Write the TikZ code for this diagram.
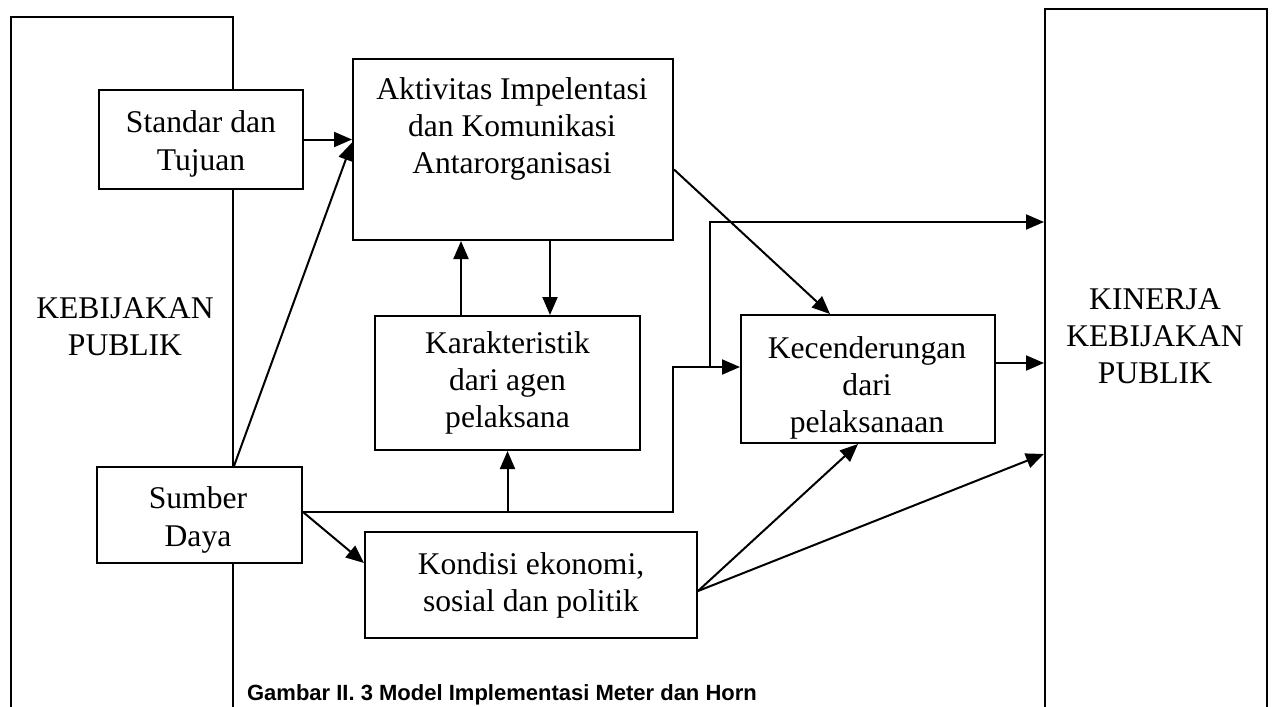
\documentclass[tikz,border=0pt]{standalone}
\usepackage{fontspec}
\setmainfont{Liberation Serif}
\newfontfamily\capfont{Liberation Sans}
\usetikzlibrary{arrows.meta}

\begin{document}
\begin{tikzpicture}[x=0.5pt,y=-0.5pt,
    box/.style={draw,line width=1pt,fill=white,align=center,inner sep=0pt,
      font=\fontsize{15.8}{18.6}\selectfont},
    bigbox/.style={draw,line width=1pt,minimum width=111pt,inner sep=0pt},
    txt/.style={align=center,inner sep=0pt,font=\fontsize{15.8}{18.6}\selectfont},
    arr/.style={line width=1pt,-{Triangle[length=9pt,width=7.5pt]}}]

  \useasboundingbox (0,0) rectangle (1277,706);

  \node[bigbox,minimum height=381.5pt] (keb) at (122,398.5) {};
  \node[bigbox,minimum height=385.5pt] (kin) at (1156,394.5) {};
  \node[txt] (kebtxt) at (125,327) {KEBIJAKAN\\PUBLIK};
  \node[txt] (kintxt) at (1155,336) {KINERJA\\KEBIJAKAN\\PUBLIK};

  \node[box,minimum width=102pt,minimum height=49.5pt] (std) at (201,139.5) {};
  \node[txt] (stdtxt) at (201,144) {Standar dan\\Tujuan};
  \node[box,minimum width=160pt,minimum height=90.5pt] (akt) at (513,149.5) {};
  \node[txt] (akttxt) at (512,129) {Aktivitas Impelentasi\\dan Komunikasi\\Antarorganisasi};
  \node[box,minimum width=132.5pt,minimum height=67pt] (kar) at (507.5,383) {Karakteristik\\dari agen\\pelaksana};
  \node[box,minimum width=102.5pt,minimum height=48pt] (sum) at (199.5,515) {};
  \node[txt] (sumtxt) at (198,520) {Sumber\\Daya};
  \node[box,minimum width=166pt,minimum height=53pt] (kon) at (531,585) {Kondisi ekonomi,\\sosial dan politik};
  \node[box,minimum width=127pt,minimum height=64pt] (kec) at (868,379) {};
  \node[txt] (kectxt) at (867,388) {Kecenderungan\\dari\\pelaksanaan};

  \coordinate (up) at (461,0);
  \coordinate (dn) at (550,0);
  \coordinate (j1) at (673,512);
  \coordinate (j2) at (673,367);
  \coordinate (j3) at (710,367);
  \coordinate (j4) at (710,222);

  \draw[arr] (std.east) -- (std.east -| akt.west);
  \draw[arr] (sum.north -| keb.east) -- ([yshift=3.5pt]akt.west);
  \draw[arr] (kar.north -| up) -- (akt.south -| up);
  \draw[arr] (akt.south -| dn) -- (kar.north -| dn);
  \draw[arr] ([yshift=-10pt]akt.east) -- ([xshift=-19pt]kec.north);

  \draw[arr] (sum.east |- j1) -| (j2) -- (j2 -| kec.west);
  \draw[arr] (j3) |- (kin.west |- j4);
  \draw[arr] (kar.south |- j1) -- (kar.south);
  \draw[arr] (sum.east |- j1) -- ([yshift=11pt]kon.west);

  \draw[arr] ([yshift=-3pt]kon.east) -- ([xshift=-5pt]kec.south);
  \draw[arr] ([yshift=-3pt]kon.east) -- ([yshift=-29.75pt]kin.west);
  \draw[arr] ([yshift=8pt]kec.east) -- ([yshift=8pt]kec.east -| kin.west);

  \node[anchor=base,inner sep=0pt,font=\capfont\bfseries\fontsize{11}{13}\selectfont] (cap) at (502,700)
    {Gambar II. 3 Model Implementasi Meter dan Horn};
\end{tikzpicture}
\end{document}
